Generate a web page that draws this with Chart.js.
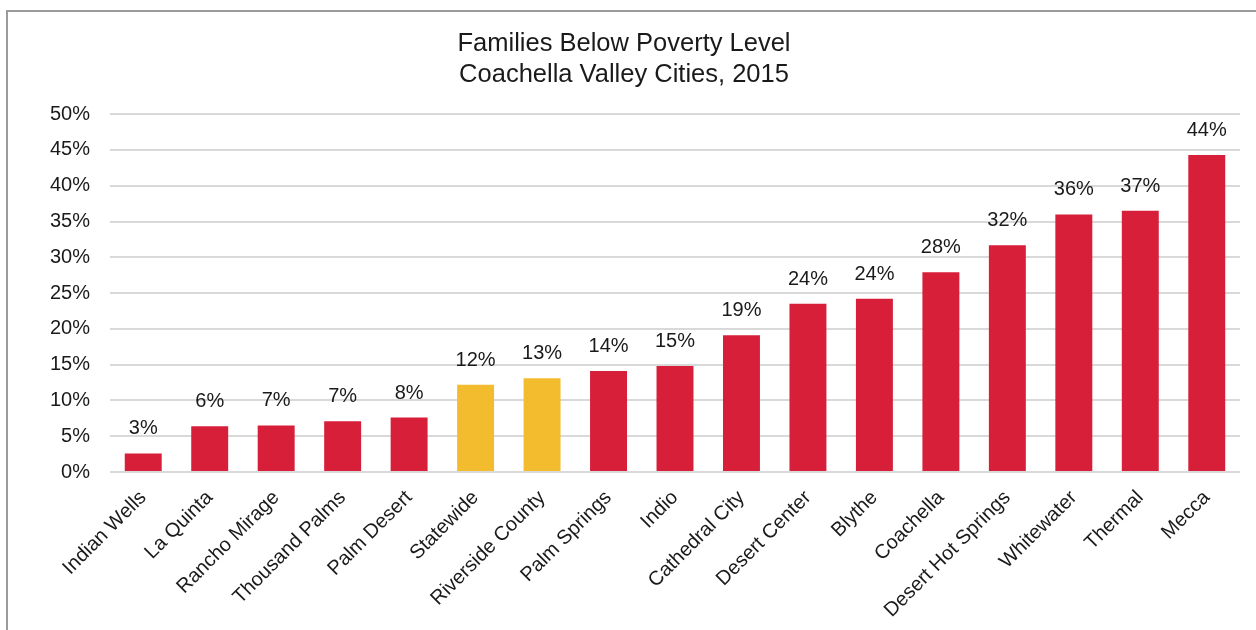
<!doctype html>
<html>
<head>
    <title>Families Below Poverty Level</title>
    <script src="https://cdn.jsdelivr.net/npm/chart.js@4/dist/chart.umd.min.js"></script>
    <style>
        html, body{
            margin: 0px;
            width: 100%;
            height: 100%;
            overflow: hidden;
            background: #fff;
        }
        #frame{
            position: absolute;
            left: 6px;
            top: 10px;
            width: 1250px;
            height: 620px;
            border-top: 2px solid #9b9b9b;
            border-left: 2px solid #9b9b9b;
        }
    </style>
</head>
<body>
    <div id="frame">
        <canvas id="canvas" width="1248" height="618"></canvas>
    </div>

    <script>
        var cities = ['Indian Wells', 'La Quinta', 'Rancho Mirage', 'Thousand Palms', 'Palm Desert',
            'Statewide', 'Riverside County', 'Palm Springs', 'Indio', 'Cathedral City', 'Desert Center',
            'Blythe', 'Coachella', 'Desert Hot Springs', 'Whitewater', 'Thermal', 'Mecca'];
        // percent of families below poverty level
        var poverty = [2.6, 6.4, 6.5, 7.1, 7.6, 12.2, 13.1, 14.1, 14.8, 19.1, 23.5,
            24.2, 27.9, 31.7, 36.0, 36.5, 44.3];
        // which bars are reference areas (yellow)
        var isReference = [false, false, false, false, false, true, true, false, false, false, false,
            false, false, false, false, false, false];
        var yTicks = [0, 5, 10, 15, 20, 25, 30, 35, 40, 45, 50];

        var red = '#d81f3a';
        var yellow = '#f3bc2e';
        var font = 'Liberation Sans, Arial, sans-serif';

        var valueLabels = {
            id: 'valueLabels',
            afterDatasetsDraw: function(chart){
                var ctx = chart.ctx;
                var meta = chart.getDatasetMeta(0);
                ctx.save();
                ctx.font = '20px ' + font;
                ctx.fillStyle = '#1a1a1a';
                ctx.textAlign = 'center';
                ctx.textBaseline = 'alphabetic';
                meta.data.forEach(function(bar, i){
                    ctx.fillText(Math.round(poverty[i]) + '%', bar.x, bar.y - 19);
                });
                ctx.restore();
            }
        };

        var ctx = document.getElementById('canvas').getContext('2d');
        window.myBar = new Chart(ctx, {
            type: 'bar',
            data: {
                labels: cities,
                datasets: [{
                    data: poverty,
                    backgroundColor: isReference.map(function(r){ return r ? yellow : red; }),
                    barPercentage: 0.556,
                    categoryPercentage: 1
                }]
            },
            plugins: [valueLabels],
            options: {
                responsive: false,
                animation: false,
                layout: { padding: { left: 0, right: 16, top: 0, bottom: 0 } },
                plugins: {
                    legend: { display: false },
                    tooltip: { enabled: false },
                    title: {
                        display: true,
                        text: ['Families Below Poverty Level', 'Coachella Valley Cities, 2015'],
                        color: '#1a1a1a',
                        font: { family: font, size: 25.5, weight: 'normal', lineHeight: 1.2 },
                        padding: { top: 17, bottom: 24 }
                    }
                },
                scales: {
                    x: {
                        grid: { display: false },
                        border: { display: false },
                        ticks: {
                            color: '#1a1a1a',
                            font: { family: font, size: 20 },
                            minRotation: 45,
                            maxRotation: 45,
                            autoSkip: false,
                            padding: 6
                        },
                        afterFit: function(scale){ scale.height = 158; }
                    },
                    y: {
                        min: 0,
                        max: 50,
                        afterBuildTicks: function(scale){
                            scale.ticks = yTicks.map(function(v){ return { value: v }; });
                        },
                        grid: { color: '#d9d9d9', lineWidth: 2, drawTicks: false },
                        border: { display: false },
                        ticks: {
                            color: '#1a1a1a',
                            font: { family: font, size: 20 },
                            padding: 20,
                            callback: function(v){ return v + '%'; }
                        },
                        afterFit: function(scale){ scale.width = 102; }
                    }
                }
            }
        });
    </script>
</body>
</html>
